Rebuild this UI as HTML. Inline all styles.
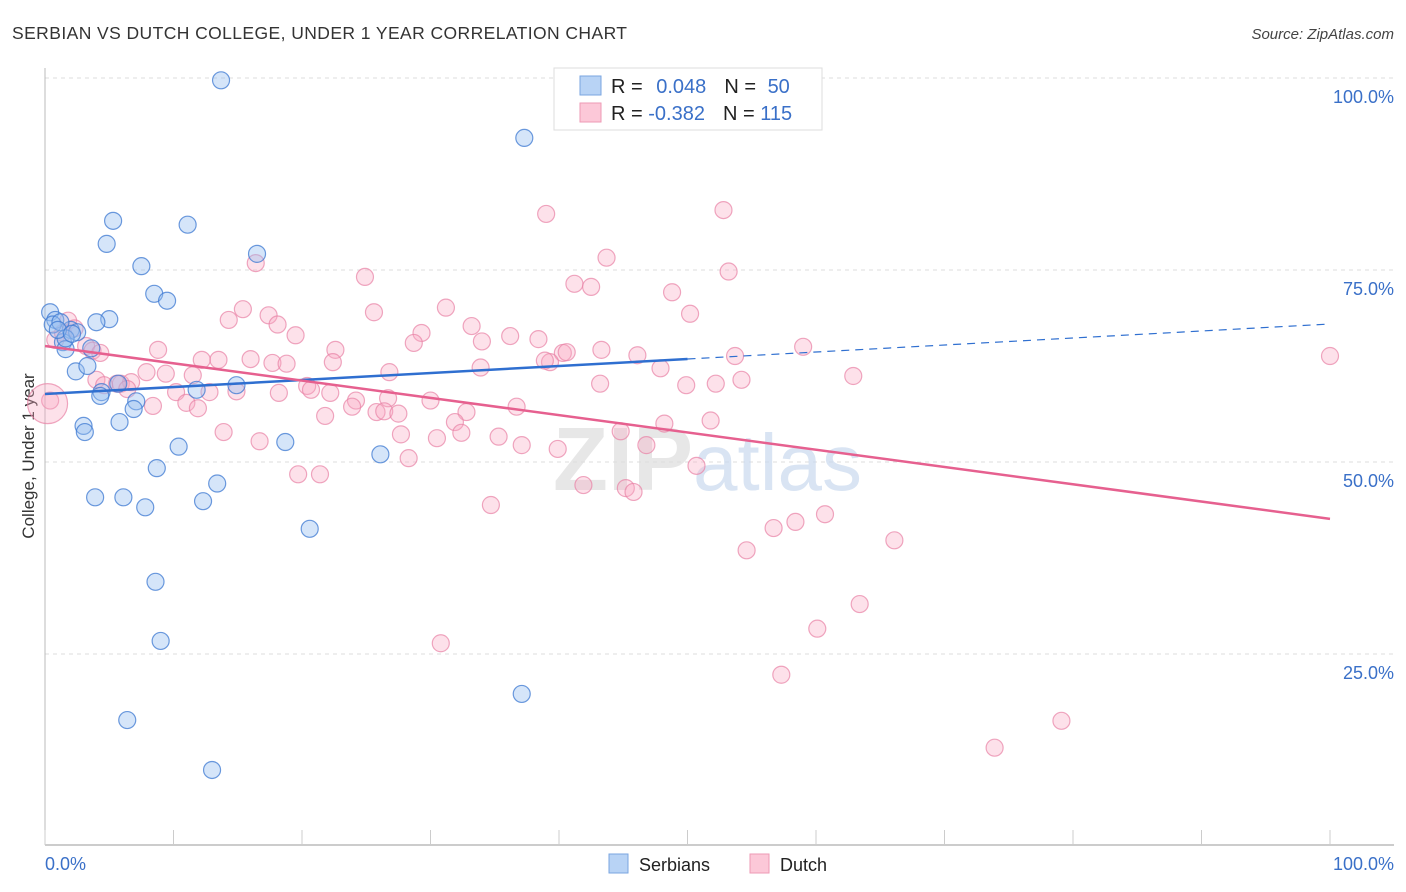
<!DOCTYPE html>
<html><head><meta charset="utf-8">
<style>
body{margin:0;background:#fff;font-family:"Liberation Sans",sans-serif;}
svg{display:block}
</style></head><body>
<svg id="chart" width="1406" height="892" xmlns="http://www.w3.org/2000/svg">
<text x="12" y="39" font-size="17.5" fill="#333" textLength="615">SERBIAN VS DUTCH COLLEGE, UNDER 1 YEAR CORRELATION CHART</text>
<text x="1394" y="39" font-size="15" font-style="italic" fill="#444" text-anchor="end">Source: ZipAtlas.com</text>
<text transform="translate(34,456) rotate(-90)" font-size="17" fill="#333" text-anchor="middle">College, Under 1 year</text>
<g id="grid"></g>
<text x="553" y="490" font-size="90" font-weight="bold" fill="#ddd" opacity="0.7">ZIP<tspan fill="#c9d9ee" font-weight="normal" font-size="80">atlas</tspan></text>
<g id="marks"></g>
<g id="lines"></g>
<g>
<rect x="554" y="68" width="268" height="62" fill="#fff" stroke="#ddd"/>
<rect x="580" y="76" width="21" height="19" fill="#b8d3f5" stroke="#7aa6e0"/>
<rect x="580" y="103" width="21" height="19" fill="#fcc8d8" stroke="#ee9ab5"/>
<text x="611" y="93" font-size="20" fill="#222">R = <tspan fill="#3a70c8" dx="8">0.048</tspan><tspan dx="18" fill="#222">N = </tspan><tspan fill="#3a70c8" dx="6">50</tspan></text>
<text x="611" y="120" font-size="20" fill="#222">R = <tspan fill="#3a70c8">-0.382</tspan><tspan dx="18" fill="#222">N = </tspan><tspan fill="#3a70c8">115</tspan></text>
</g>
<g>
<rect x="609" y="854" width="19" height="19" fill="#b8d3f5" stroke="#7aa6e0"/>
<text x="639" y="871" font-size="18" fill="#222">Serbians</text>
<rect x="750" y="854" width="19" height="19" fill="#fcc8d8" stroke="#ee9ab5"/>
<text x="780" y="871" font-size="18" fill="#222">Dutch</text>
</g>
<text x="45" y="870" font-size="18" fill="#3a70c8">0.0%</text>
<text x="1394" y="870" font-size="18" fill="#3a70c8" text-anchor="end">100.0%</text>
</svg>
<script>
const yTicks=[100,75,50,25];
const yTickLabels=["100.0%","75.0%","50.0%","25.0%"];
const xTicks=[0,10,20,30,40,50,60,70,80,90,100];
const serbX=[13.7,37.3,5.3,11.1,4.8,7.5,16.5,8.5,9.5,0.4,0.8,5.0,4.0,0.6,2.0,2.5,1.4,3.6,1.6,2.4,3.3,5.7,4.4,4.3,7.1,6.9,14.9,11.8,5.8,3.0,3.1,10.4,18.7,8.7,26.1,3.9,6.1,13.4,7.8,12.3,20.6,8.6,9.0,37.1,6.4,13.0,1.2,1.6,1.0,2.1];
const serbY=[99.7,92.2,81.4,80.9,78.4,75.5,77.1,71.9,71.0,69.5,68.5,68.6,68.2,67.9,67.2,66.9,65.6,64.8,64.7,61.8,62.5,60.2,59.1,58.6,57.9,56.9,60.0,59.4,55.2,54.7,53.9,52.0,52.6,49.2,51.0,45.4,45.4,47.2,44.1,44.9,41.3,34.4,26.7,19.8,16.4,9.9,68.2,66.1,67.2,66.7];
const dutchX=[39.0,52.8,43.7,53.2,16.4,24.9,41.2,42.5,48.8,15.4,25.6,31.2,50.2,14.3,17.4,18.1,19.5,33.2,29.3,28.7,34.0,36.2,38.4,40.3,40.6,43.3,46.1,53.7,59.0,22.6,8.8,12.2,13.5,16.0,17.7,18.8,22.4,4.0,5.9,6.7,7.9,9.4,11.5,20.4,20.7,24.2,26.7,5.6,4.6,6.4,10.2,12.8,14.9,8.4,11.0,11.9,30.0,23.9,25.8,26.4,27.5,32.8,36.7,21.8,31.9,13.9,16.7,27.7,30.5,32.4,35.3,37.1,39.9,44.8,46.8,19.7,21.4,28.3,41.9,45.2,45.8,50.7,34.7,56.7,58.4,60.7,66.1,54.6,63.4,60.1,30.8,57.3,79.1,73.9,100,62.9,54.2,52.2,49.9,47.9,51.8,48.2,0.4,0.8,1.8,2.3,1.4,3.2,3.7,4.3,39.3,43.2,33.9,22.2,18.2,38.9,26.8];
const dutchY=[82.3,82.8,76.6,74.8,75.9,74.1,73.2,72.8,72.1,69.9,69.5,70.1,69.3,68.5,69.1,67.9,66.5,67.7,66.8,65.5,65.7,66.4,66.0,64.2,64.3,64.6,63.9,63.8,65.0,64.6,64.6,63.3,63.3,63.4,62.9,62.8,63.0,60.7,60.2,60.4,61.7,61.5,61.3,59.9,59.4,58.0,58.3,60.2,60.0,59.5,59.1,59.1,59.2,57.3,57.7,57.0,58.0,57.2,56.5,56.6,56.3,56.5,57.2,56.0,55.2,53.9,52.7,53.6,53.1,53.8,53.3,52.2,51.7,54.0,52.2,48.4,48.4,50.5,47.0,46.6,46.1,49.5,44.4,41.4,42.2,43.2,39.8,38.5,31.5,28.3,26.4,22.3,16.3,12.8,63.8,61.2,60.7,60.2,60.0,62.2,55.4,55.0,58.0,65.9,68.4,67.4,66.8,65.1,64.5,64.2,63.0,60.2,62.3,59.0,59.0,63.2,61.7];
const bigX=[0.2], bigY=[57.6];
const blueTrend=[58.85,67.97], pinkTrend=[65.1,42.6];
const X0=45,X1=1330,Y0=846,YT=78;
const sx=v=>X0+(X1-X0)*v/100, sy=v=>Y0-(Y0-YT)*v/100;
const NS="http://www.w3.org/2000/svg";
function mk(t,a,p){const e=document.createElementNS(NS,t);for(const k in a)e.setAttribute(k,a[k]);p.appendChild(e);return e;}
const grid=document.getElementById('grid');
yTicks.forEach((t,i)=>{
 const l=mk('line',{x1:X0,x2:1394,y1:sy(t),y2:sy(t),stroke:'#ddd','stroke-dasharray':'4,4'},grid);
 
 
 const tx=mk('text',{x:1394,y:sy(t)+25,'font-size':18,fill:'#3a70c8','text-anchor':'end'},grid);
 tx.textContent=yTickLabels[i];
 
 
});
const ax=mk('line',{x1:X0,x2:1394,y1:845,y2:845,stroke:'#bbb','stroke-width':1.5},grid);


const ay=mk('line',{x1:X0,x2:X0,y1:68,y2:845,stroke:'#bbb'},grid);


xTicks.forEach(t=>{
 const l=mk('line',{x1:sx(t),x2:sx(t),y1:830,y2:845,stroke:'#ccc'},grid);
 
 
});
const marks=document.getElementById('marks');
dutchX.forEach((x,i)=>{
 const c=mk('circle',{cx:sx(x),cy:sy(dutchY[i]),r:8.5,fill:'rgba(248,170,195,0.35)',stroke:'rgba(232,130,165,0.7)','stroke-width':1.2},marks);
 
 
});
bigX.forEach((x,i)=>{
 const c=mk('circle',{cx:sx(x),cy:sy(bigY[i]),r:20,fill:'rgba(248,170,195,0.35)',stroke:'rgba(232,130,165,0.7)','stroke-width':1.2},marks);
 
 
});
serbX.forEach((x,i)=>{
 const c=mk('circle',{cx:sx(x),cy:sy(serbY[i]),r:8.5,fill:'rgba(150,190,240,0.4)',stroke:'rgba(60,120,210,0.75)','stroke-width':1.2},marks);
 
 
});
const lines=document.getElementById('lines');
const bAt=v=>blueTrend[0]+(blueTrend[1]-blueTrend[0])*v/100;
const b1=mk('line',{x1:sx(0),y1:sy(bAt(0)),x2:sx(50),y2:sy(bAt(50)),stroke:'#2f6fd0','stroke-width':2.5},lines);


const b2=mk('line',{x1:sx(50),y1:sy(bAt(50)),x2:sx(100),y2:sy(bAt(100)),stroke:'#2f6fd0','stroke-width':1.2,'stroke-dasharray':'8,6'},lines);


const p1=mk('line',{x1:sx(0),y1:sy(pinkTrend[0]),x2:sx(100),y2:sy(pinkTrend[1]),stroke:'#e6608f','stroke-width':2.5},lines);


</script>
</body></html>
